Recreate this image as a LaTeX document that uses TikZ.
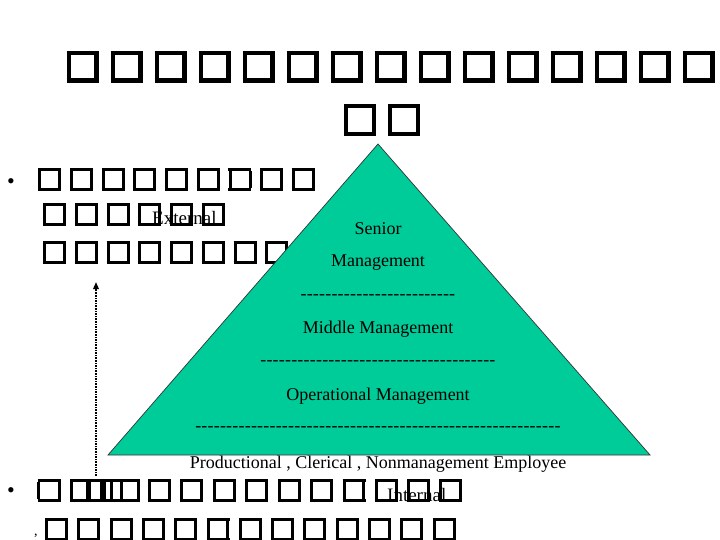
\documentclass[tikz,border=0pt]{standalone}
\usepackage{fontspec}
\setmainfont{Liberation Serif}
\usetikzlibrary{arrows.meta}
\definecolor{pyr}{RGB}{0,204,153}
% tofu (missing-glyph) box: #1 outer width, #2 outer height, #3 stroke, numbers in pt
\newcommand\tofubox[3]{\vbox{\hrule height #3pt width #1pt
  \hbox{\vrule width #3pt height \dimexpr #2pt - #3pt - #3pt\relax depth 0pt
  \kern\dimexpr #1pt - #3pt - #3pt\relax\vrule width #3pt}%
  \hrule height #3pt width #1pt}}
\newcommand\tofuB{\tofubox{32}{32}{4.3}}
\newcommand\tofuS{\tofubox{23}{23}{3}}
\newcommand\gapB{\kern12pt}
\newcommand\gapS{\kern8.7pt}
\newcommand\gapT{\kern9.3pt}
% a row of plain hyphens (kern stops them joining into dashes)
\newcommand\hyrow[1]{\foreach \k in {1,...,#1}{-\kern0.2pt}}
\begin{document}
\begin{tikzpicture}[x=1pt,y=-1pt,
  row/.style={anchor=base west, inner sep=0pt, outer sep=0pt},
  lbl/.style={anchor=base, inner sep=0pt, font=\fontsize{18}{20}\selectfont},
  side/.style={anchor=base west, inner sep=0pt, font=\fontsize{19}{21}\selectfont},
  bul/.style={anchor=center, inner sep=0pt, font=\fontsize{22}{24}\selectfont},
  pyramid/.style={fill=pyr, draw=black!80, line width=0.7pt, line join=miter},
  flow/.style={densely dotted, line width=1.6pt, -{Triangle[length=7pt,width=5.5pt]}}]
\useasboundingbox (0,0) rectangle (720,540);

% title
\node[row] (t1) at (66.7,82.7) {\tofuB\gapB\tofuB\gapB\tofuB\gapB\tofuB\gapB\tofuB\gapB\tofuB\gapB\tofuB\gapB\tofuB\gapB\tofuB\gapB\tofuB\gapB\tofuB\gapB\tofuB\gapB\tofuB\gapB\tofuB\gapB\tofuB};
\node[row] (t2) at (344,136) {\tofuB\gapB\tofuB};

% first bullet
\node[bul] (bu1) at (11,184) {•};
\node[row] (a1) at (38.3,190.7) {\tofuS\gapS\tofuS\gapS\tofuS\gapS\tofuS\gapS\tofuS\gapS\tofuS\gapS\tofuS\gapS\tofuS\gapS\tofuS};
\node[row] (a2) at (43.3,225.7) {\tofuS\gapS\tofuS\gapS\tofuS\gapS\tofuS\gapS\tofuS\gapS\tofuS};
\node[row] (a3) at (43.3,264) {\tofuS\gapS\tofuS\gapS\tofuS\gapS\tofuS\gapS\tofuS\gapS\tofuS\gapS\tofuS\gapS\tofuS};
\node[side] (ext) at (152,225) {External};

% second bullet
\node[bul] (bu2) at (11,493) {•};
\node[row] (b1) at (37.5,501.7) {\tofuS\kern9.5pt\tofubox{21}{23}{3}\kern-5pt\tofubox{20}{23}{3}\kern-6pt\tofubox{23}{23}{3}\kern-13pt\tofubox{30}{23}{3}\kern8pt\tofuS\gapT\tofuS\gapT\tofuS\gapT\tofuS\kern10pt\tofuS\gapT\tofuS\gapT\tofuS\gapT\tofuS\gapT\tofuS\gapT\tofuS};
\node[anchor=base, inner sep=0pt, font=\fontsize{14}{16}\selectfont] (cm1) at (266,499) {,};
\node[side] (int) at (387,501) {Internal};
\node[row] (b2) at (45,540.5) {\tofuS\gapT\tofuS\gapT\tofuS\gapT\tofuS\gapT\tofuS\gapT\tofuS\gapT\tofuS\gapT\tofuS\gapT\tofuS\gapT\tofuS\gapT\tofuS\gapT\tofuS\gapT\tofuS};
\node[anchor=base, inner sep=0pt, font=\fontsize{14}{16}\selectfont] (cm2) at (36,535) {,};

% pyramid
\coordinate (apex) at (378,144);
\coordinate (bl) at (108,455);
\coordinate (br) at (650,455);
\filldraw[pyramid] (apex) -- (bl) -- (br) -- cycle;

\node[lbl] (sen) at (378,234) {Senior};
\node[lbl] (sen2) at (378,266) {Management};
\node[lbl] (d1) at (378,299.5) {\hyrow{25}};
\node[lbl] (mid) at (378,333) {Middle Management};
\node[lbl] (d2) at (378,365.5) {\hyrow{38}};
\node[lbl] (op) at (378,400) {Operational Management};
\node[lbl] (d3) at (378,431.5) {\hyrow{59}};
\node[lbl] (emp) at (378,468) {Productional , Clerical , Nonmanagement Employee};

% dotted arrow
\coordinate (arrS) at (96,476);
\coordinate (arrE) at (96,282);
\draw[flow] (arrS) -- (arrE);
\end{tikzpicture}
\end{document}
